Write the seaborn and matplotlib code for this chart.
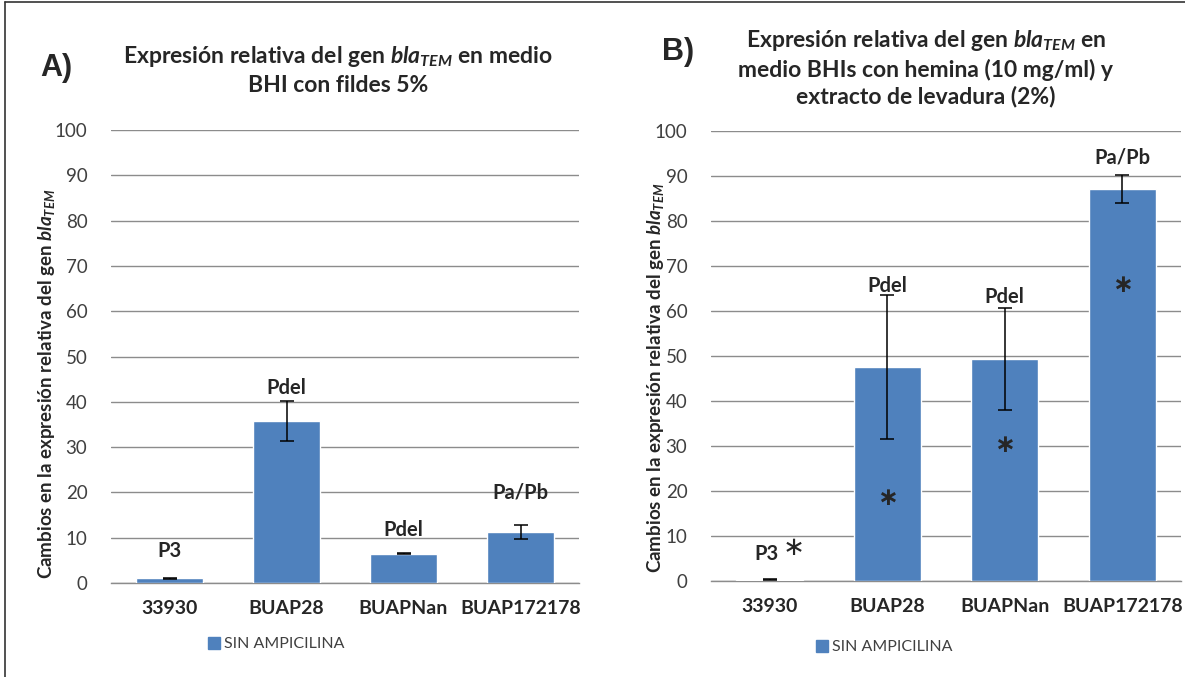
import numpy as np
import pandas as pd
import matplotlib
matplotlib.use("Agg")
import matplotlib.pyplot as plt
import seaborn as sns
from matplotlib.lines import Line2D

# ---------------- data ----------------
strains = ["33930", "BUAP28", "BUAPNan", "BUAP172178"]
expr_a = [1.0, 35.7, 6.5, 11.2]
err_a = [0.2, 4.4, 0.2, 1.5]
expr_b = [0.3, 47.6, 49.3, 87.1]
err_b = [0.1, 16.0, 11.3, 3.1]
promoters_a = ["P3", "Pdel", "Pdel", "Pa/Pb"]
promoters_b = ["P3", "Pdel", "Pdel", "Pa/Pb"]
signif_b = [True, True, True, True]
series_name = "SIN AMPICILINA"
yticks = [0, 10, 20, 30, 40, 50, 60, 70, 80, 90, 100]

# annotation placement (data units)
label_y_a = [7.0, 43.0, 11.7, 20.0]
label_y_b = [6.0, 65.5, 63.1, 94.0]
star_y_b = [18.5, 30.2, 65.7]

# ---------------- style ----------------
sns.set_style("white")
plt.rcParams["font.family"] = ["Lato", "DejaVu Sans"]
plt.rcParams["mathtext.fontset"] = "custom"
plt.rcParams["mathtext.rm"] = "Lato:bold"
plt.rcParams["mathtext.bf"] = "Lato:bold"
plt.rcParams["mathtext.it"] = "Lato:italic:bold"

BAR = "#4F81BD"
GRID = "#8C8C8C"
TICK = "#404040"

fig = plt.figure(figsize=(11.85, 6.77), dpi=100)
W, H = 1185, 677

def px_ax(l, r, b, t):
    return [l / W, 1 - b / H, (r - l) / W, (b - t) / H]

ax_a = fig.add_axes(px_ax(111, 579, 583, 130))
ax_b = fig.add_axes(px_ax(711, 1181, 581, 131))

ylab = r"Cambios en la expresión relativa del gen $\mathit{bla}_{\mathit{TEM}}$"

def draw(ax, vals, errs):
    df = pd.DataFrame({"cepa": strains, "val": vals})
    sns.barplot(data=df, x="cepa", y="val", color=BAR, width=0.57,
                saturation=1, ax=ax, label=series_name, zorder=3)
    ax.errorbar(range(len(strains)), vals, yerr=errs, fmt="none",
                ecolor="black", elinewidth=1.1, capsize=5, capthick=1.1, zorder=4)
    ax.set_ylim(0, 100)
    ax.set_xlim(-0.5, len(strains) - 0.5)
    ax.set_yticks(yticks)
    ax.yaxis.grid(True, color=GRID, lw=1.0, zorder=0)
    ax.set_axisbelow(True)
    for s in ["top", "right", "left"]:
        ax.spines[s].set_visible(False)
    ax.spines["bottom"].set_color(GRID)
    ax.spines["bottom"].set_linewidth(1.0)
    ax.tick_params(axis="y", length=0, pad=17, labelsize=13.5, labelcolor=TICK)
    ax.tick_params(axis="x", length=0, pad=12, labelsize=14)
    for t in ax.get_xticklabels():
        t.set_fontweight("bold")
    ax.set_xlabel("")
    ax.set_ylabel("")

draw(ax_a, expr_a, err_a)
draw(ax_b, expr_b, err_b)

for i, lab in enumerate(promoters_a):
    ax_a.text(i, label_y_a[i], lab, ha="center", va="center",
              fontsize=14.5, fontweight="bold", zorder=5)
for i, lab in enumerate(promoters_b):
    xi = i - 0.03 if i == 0 else i
    ax_b.text(xi, label_y_b[i], lab, ha="center", va="center",
              fontsize=14.5, fontweight="bold", zorder=5)
# significance asterisks
ax_b.text(0.2, label_y_b[0] + 1.3, "\u2217", ha="center", va="center",
          fontsize=19, family="DejaVu Sans", zorder=5)
for i, y in zip([1, 2, 3], star_y_b):
    if signif_b[i]:
        ax_b.text(i, y, "\u2217", ha="center", va="center", fontsize=18,
                  fontweight="bold", family="DejaVu Sans", zorder=5)

# y labels
fig.text(47 / W, 1 - 384 / H, ylab, rotation=90, ha="center", va="center",
         fontsize=13.5, fontweight="bold")
fig.text(656 / W, 1 - 378 / H, ylab, rotation=90, ha="center", va="center",
         fontsize=13.5, fontweight="bold")

# titles
fig.text(338 / W, 1 - 70 / H,
         "Expresión relativa del gen $\\mathit{bla}_{\\mathit{TEM}}$ en medio\nBHI con fildes 5%",
         ha="center", va="center", fontsize=16.5, fontweight="bold", linespacing=1.3)
fig.text(926 / W, 1 - 68 / H,
         "Expresión relativa del gen $\\mathit{bla}_{\\mathit{TEM}}$ en\nmedio BHIs con hemina (10 mg/ml) y\nextracto de levadura (2%)",
         ha="center", va="center", fontsize=16.5, fontweight="bold", linespacing=1.3)

# panel letters
fig.text(56 / W, 1 - 68 / H, "A)", ha="center", va="center", fontsize=22,
         fontweight="bold", family="Liberation Sans")
fig.text(678 / W, 1 - 52 / H, "B)", ha="center", va="center", fontsize=22,
         fontweight="bold", family="Liberation Sans")

# legends
handle = [Line2D([], [], marker="s", color="none", markerfacecolor=BAR,
                 markeredgecolor=BAR, markersize=9)]
for ax, cx, cy in [(ax_a, 276, 644), (ax_b, 884, 647)]:
    ax.legend(handle, [series_name], loc="center",
              bbox_to_anchor=(cx / W, 1 - cy / H), bbox_transform=fig.transFigure,
              frameon=False, fontsize=11.5, labelcolor=TICK,
              handlelength=0.8, handletextpad=0.2, borderpad=0)

# outer frame (top and left)
fig.add_artist(Line2D([5 / W, 1], [1 - 2 / H, 1 - 2 / H], color="#333333",
                      lw=1.2, transform=fig.transFigure))
fig.add_artist(Line2D([5 / W, 5 / W], [0, 1 - 2 / H], color="#333333",
                      lw=1.2, transform=fig.transFigure))

fig.savefig("out.png", dpi=100)
